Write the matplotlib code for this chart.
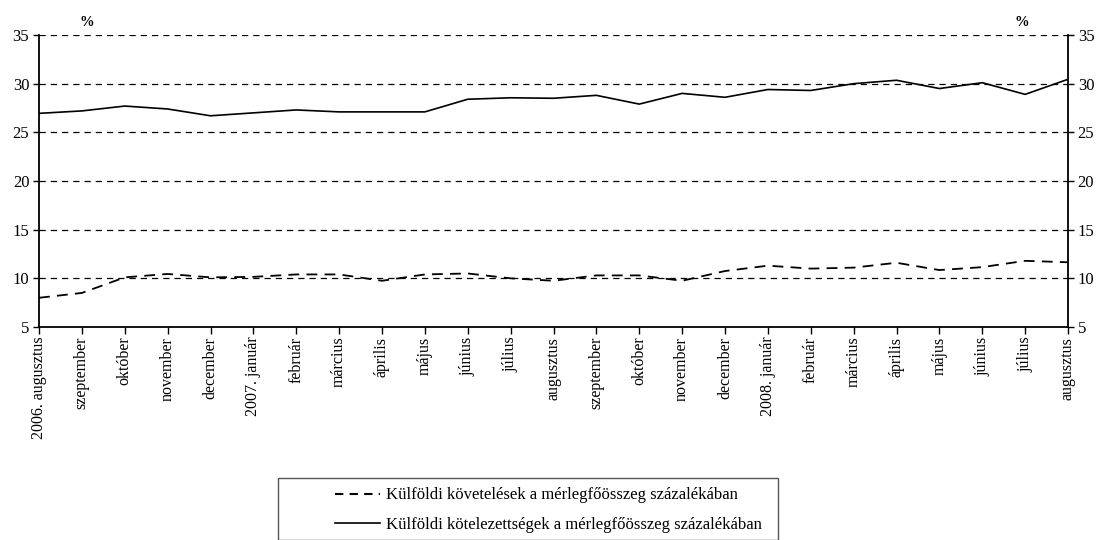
import matplotlib
matplotlib.use("Agg")
import matplotlib.pyplot as plt
from matplotlib.lines import Line2D
from matplotlib.patches import Rectangle

plt.rcParams['font.family'] = ['Liberation Serif', 'DejaVu Serif']

months = ["2006. augusztus", "szeptember", "október", "november", "december",
          "2007. január", "február", "március", "április", "május", "június",
          "július", "augusztus", "szeptember", "október", "november", "december",
          "2008. január", "február", "március", "április", "május", "június",
          "július", "augusztus"]

claims = [8.0, 8.5, 10.1, 10.45, 10.1, 10.15, 10.4, 10.4, 9.75, 10.4, 10.5,
          10.0, 9.75, 10.3, 10.3, 9.75, 10.75, 11.3, 11.0, 11.1, 11.6, 10.85,
          11.15, 11.8, 11.65]

liabilities = [26.95, 27.2, 27.7, 27.4, 26.7, 27.0, 27.3, 27.1, 27.1, 27.1,
               28.4, 28.55, 28.5, 28.8, 27.9, 29.0, 28.6, 29.4, 29.3, 30.0,
               30.35, 29.5, 30.1, 28.9, 30.45]

yticks = [5, 10, 15, 20, 25, 30, 35]

label_claims = "Külföldi követelések a mérlegfőösszeg százalékában"
label_liab = "Külföldi kötelezettségek a mérlegfőösszeg százalékában"

fig = plt.figure(figsize=(11.02, 5.40), dpi=100)
ax = fig.add_axes([39/1102, 1-327/540, (1068-39)/1102, (327-35)/540])

x = list(range(len(months)))
for yv in yticks[1:]:
    ax.axhline(yv, color='black', lw=0.9, ls=(0, (5, 4)), zorder=1)

ax.plot(x, claims, color='black', lw=1.3, ls=(0, (6, 4)), zorder=3)
ax.plot(x, liabilities, color='black', lw=1.2, zorder=3)

ax.set_xlim(0, len(months)-1)
ax.set_ylim(5, 35)
ax.set_yticks(yticks)
ax.set_xticks(x)
ax.set_xticklabels(months, rotation=90, fontsize=11.5)
ax.tick_params(axis='x', direction='out', length=5, width=1, pad=2)
ax.tick_params(axis='y', direction='out', length=4, width=1, labelsize=12,
               right=True, labelright=True, pad=3)
ax.spines['top'].set_visible(False)
for s in ['left', 'right', 'bottom']:
    ax.spines[s].set_linewidth(1.3)

fig.text(87/1102, 1-22/540, "%", fontsize=10.5, fontweight='bold', ha='center', va='center')
fig.text(1022/1102, 1-22/540, "%", fontsize=10.5, fontweight='bold', ha='center', va='center')

# legend box
fig.patches.append(Rectangle((278/1102, 0.0), (778-278)/1102, (540-478)/540,
                             transform=fig.transFigure, fill=False,
                             edgecolor='#555555', lw=1.0))
handles = [Line2D([], [], color='black', lw=1.5, ls=(0, (4, 3))),
           Line2D([], [], color='black', lw=1.2)]
fig.legend(handles, [label_claims, label_liab], loc='upper left',
           bbox_to_anchor=(322/1102, 1-474/540), frameon=False, fontsize=12,
           handlelength=2.7, handletextpad=0.35, labelspacing=0.8,
           borderpad=0.3)

fig.savefig("out.png", dpi=100)
